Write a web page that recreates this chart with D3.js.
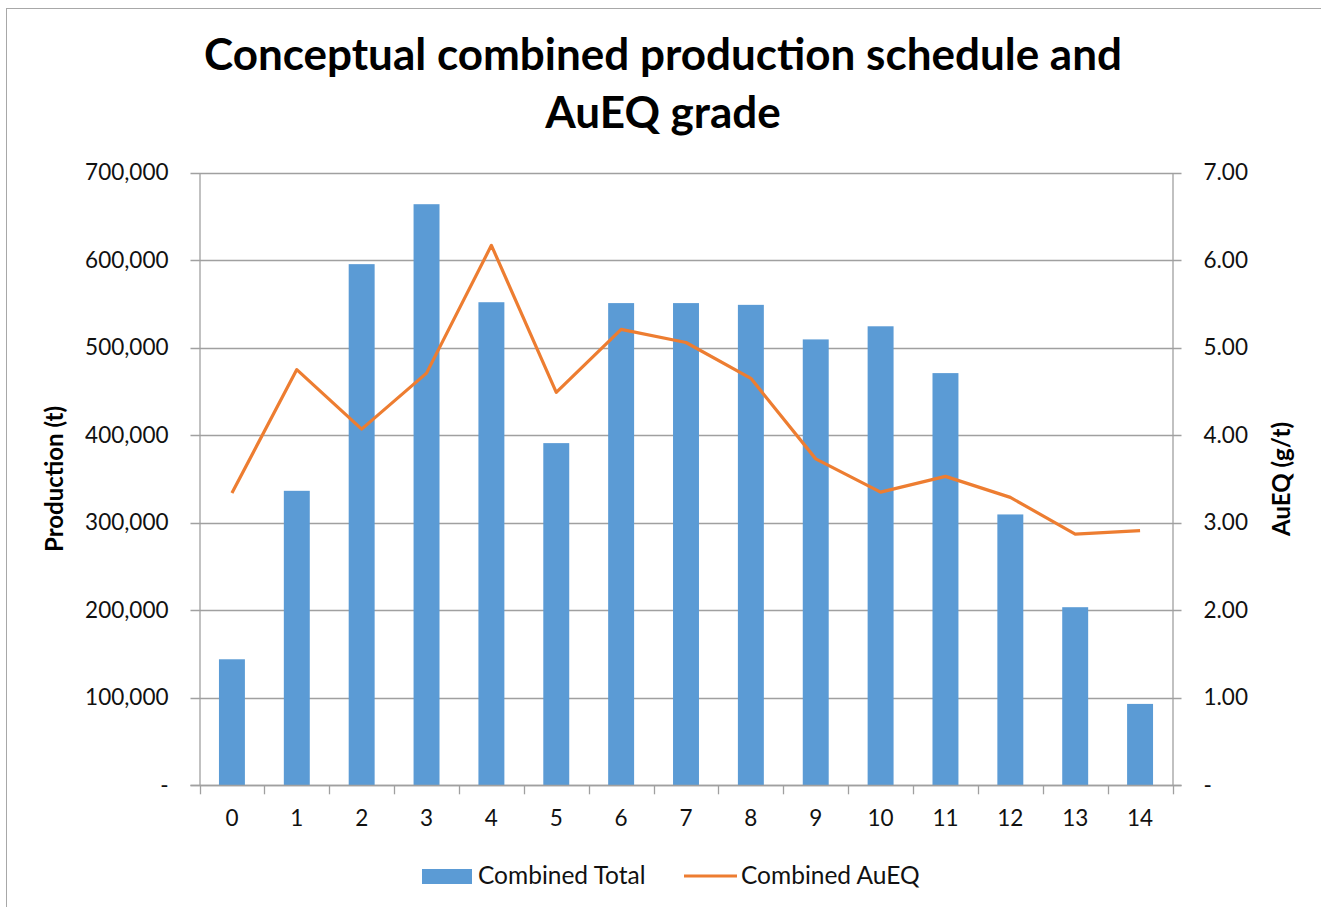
<!DOCTYPE html>
<html>
<head>
<meta charset="utf-8">
<script src="https://cdn.jsdelivr.net/npm/d3@7"></script>
<style>
  html, body { margin: 0; padding: 0; background: #fff; }
  svg { display: block; font-family: Lato, "Open Sans", sans-serif; }
</style>
</head>
<body>
<svg id="chart" width="1321" height="907"></svg>
<script>
// Production schedule by year
const years = [0, 1, 2, 3, 4, 5, 6, 7, 8, 9, 10, 11, 12, 13, 14];
const combinedTotal = [144000, 336500, 595500, 664000, 552000, 391000, 551000, 551000, 549000, 509500, 524500, 471000, 309500, 203500, 93000];
const combinedAuEQ = [3.34, 4.75, 4.07, 4.71, 6.17, 4.49, 5.21, 5.06, 4.65, 3.73, 3.35, 3.53, 3.29, 2.87, 2.91];
const productionTicks = [0, 100000, 200000, 300000, 400000, 500000, 600000, 700000];
const gradeTicks = [0, 1, 2, 3, 4, 5, 6, 7];

const titleLines = ["Conceptual combined production schedule and", "AuEQ grade"];
const leftTitle = "Production (t)";
const rightTitle = "AuEQ (g/t)";
const legendLabels = ["Combined Total", "Combined AuEQ"];

const barColor = "#5B9BD5";
const lineColor = "#ED7D31";
const gridColor = "#A0A0A0";
const textColor = "#111";

const svg = d3.select("#chart");

// outer frame
svg.append("rect")
  .attr("x", 6.5).attr("y", 8.5)
  .attr("width", 1330).attr("height", 920)
  .attr("fill", "none").attr("stroke", "#A8A8A8").attr("stroke-width", 1);

const plot = { left: 199.5, right: 1172.5, top: 172.7, bottom: 785.3 };

const x = d3.scaleBand()
  .domain(years)
  .range([plot.left, plot.right])
  .paddingInner(0.6)
  .paddingOuter(0.3);

const xEdge = d3.scaleLinear().domain([0, years.length]).range([plot.left, plot.right]);

const yLeft = d3.scaleLinear().domain([0, 700000]).range([plot.bottom, plot.top]);
const yRight = d3.scaleLinear().domain([0, 7]).range([plot.bottom, plot.top]);

// gridlines (extend across both tick stubs)
svg.append("g")
  .selectAll("line")
  .data(productionTicks)
  .join("line")
  .attr("x1", plot.left - 9).attr("x2", plot.right + 9)
  .attr("y1", d => Math.round(yLeft(d)) + 0.5)
  .attr("y2", d => Math.round(yLeft(d)) + 0.5)
  .attr("stroke", gridColor).attr("stroke-width", 1.3);

// left axis
const leftAxis = d3.axisLeft(yLeft)
  .tickValues(productionTicks)
  .tickSize(0)
  .tickPadding(31)
  .tickFormat(d => d === 0 ? "-" : d3.format(",")(d));
const gL = svg.append("g").attr("transform", `translate(${plot.left},0)`).call(leftAxis);
gL.select(".domain").attr("stroke", gridColor).attr("stroke-width", 1.3);
gL.selectAll("text").attr("font-size", 22.5).attr("fill", textColor).attr("font-family", "Lato");

// right axis
const rightAxis = d3.axisRight(yRight)
  .tickValues(gradeTicks)
  .tickSize(0)
  .tickPadding(31)
  .tickFormat(d => d === 0 ? "-" : d3.format(".2f")(d));
const gR = svg.append("g").attr("transform", `translate(${plot.right},0)`).call(rightAxis);
gR.select(".domain").attr("stroke", gridColor).attr("stroke-width", 1.3);
gR.selectAll("text").attr("font-size", 22.5).attr("fill", textColor).attr("font-family", "Lato");

// bottom axis: labels at band centres, ticks at category boundaries
const bottomAxis = d3.axisBottom(x).tickSize(0).tickPadding(25);
const gB = svg.append("g").attr("transform", `translate(0,${plot.bottom})`).call(bottomAxis);
gB.select(".domain").remove();
gB.selectAll("text").attr("font-size", 22.5).attr("fill", textColor).attr("font-family", "Lato");
svg.append("g")
  .selectAll("line")
  .data(d3.range(years.length + 1))
  .join("line")
  .attr("x1", i => Math.round(xEdge(i)) + 0.5)
  .attr("x2", i => Math.round(xEdge(i)) + 0.5)
  .attr("y1", plot.bottom).attr("y2", plot.bottom + 9)
  .attr("stroke", gridColor).attr("stroke-width", 1.3);

// bars
svg.append("g")
  .selectAll("rect")
  .data(years)
  .join("rect")
  .attr("x", (d) => x(d))
  .attr("width", x.bandwidth())
  .attr("y", (d, i) => yLeft(combinedTotal[i]))
  .attr("height", (d, i) => yLeft(0) - yLeft(combinedTotal[i]))
  .attr("fill", barColor);

// baseline over bars
svg.append("line")
  .attr("x1", plot.left - 9).attr("x2", plot.right + 9)
  .attr("y1", Math.round(plot.bottom) + 0.5).attr("y2", Math.round(plot.bottom) + 0.5)
  .attr("stroke", gridColor).attr("stroke-width", 1.3);

// grade line
const line = d3.line()
  .x((d, i) => x(years[i]) + x.bandwidth() / 2)
  .y(d => yRight(d));
svg.append("path")
  .datum(combinedAuEQ)
  .attr("d", line)
  .attr("fill", "none")
  .attr("stroke", lineColor)
  .attr("stroke-width", 3.2)
  .attr("stroke-linejoin", "round");

// title
const title = svg.append("g");
titleLines.forEach((t, i) => {
  title.append("text")
    .attr("x", 663).attr("y", 70 + i * 58)
    .attr("text-anchor", "middle")
    .attr("font-weight", "bold")
    .attr("font-size", 44)
    .attr("fill", "#000")
    .text(t);
});

// axis titles
svg.append("text")
  .attr("transform", "translate(63,479) rotate(-90)")
  .attr("text-anchor", "middle")
  .attr("font-weight", "bold")
  .attr("font-size", 24)
  .attr("fill", "#000")
  .text(leftTitle);
svg.append("text")
  .attr("transform", "translate(1290,479) rotate(-90)")
  .attr("text-anchor", "middle")
  .attr("font-weight", "bold")
  .attr("font-size", 24)
  .attr("fill", "#000")
  .text(rightTitle);

// legend
const legend = svg.append("g");
legend.append("rect")
  .attr("x", 422).attr("y", 869).attr("width", 50).attr("height", 15)
  .attr("fill", barColor);
legend.append("text")
  .attr("x", 478).attr("y", 884)
  .attr("font-size", 24.5).attr("fill", textColor)
  .text(legendLabels[0]);
legend.append("line")
  .attr("x1", 684).attr("x2", 737).attr("y1", 876).attr("y2", 876)
  .attr("stroke", lineColor).attr("stroke-width", 3.2);
legend.append("text")
  .attr("x", 741).attr("y", 884)
  .attr("font-size", 24.5).attr("fill", textColor)
  .text(legendLabels[1]);
</script>
</body>
</html>
